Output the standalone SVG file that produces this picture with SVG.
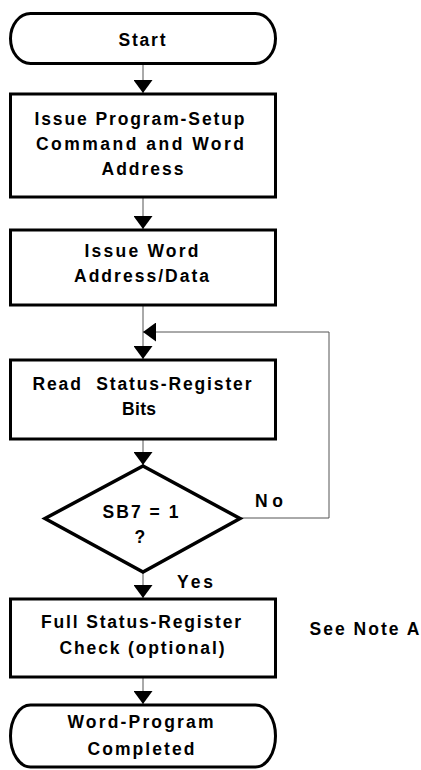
<svg xmlns="http://www.w3.org/2000/svg" width="421" height="770" viewBox="0 0 421 770">
<defs>
<marker id="ah" markerUnits="userSpaceOnUse" viewBox="0 0 13 19" refX="13" refY="9.5" markerWidth="13" markerHeight="19" orient="auto">
<path d="M0,0 L13,9.5 L0,19 z" fill="#000"/>
</marker>
</defs>
<style>
.shape{fill:#fff;stroke:#000;stroke-width:3}
.dia{fill:#fff;stroke:#000;stroke-width:3.5;stroke-linejoin:miter}
.t{font-family:"Liberation Sans",Arial,Helvetica,sans-serif;font-weight:bold;font-size:17.5px;fill:#000;white-space:pre}
.c{fill:none;stroke:#555;stroke-width:1}
</style>
<rect width="421" height="770" fill="#fff"/>
<g id="connectors">
<path class="c" d="M143,64 V93" marker-end="url(#ah)"/>
<path class="c" d="M143,197 V229" marker-end="url(#ah)"/>
<path class="c" d="M143,305 V359" marker-end="url(#ah)"/>
<path class="c" d="M143,439 V465" marker-end="url(#ah)"/>
<path class="c" d="M143,572 V598" marker-end="url(#ah)"/>
<path class="c" d="M143,677 V704" marker-end="url(#ah)"/>
<path class="c" d="M240,518 H329 V332 H143" marker-end="url(#ah)"/>
<text class="t" x="255" y="507" textLength="28" lengthAdjust="spacing">No</text>
<text class="t" x="177" y="588" textLength="36" lengthAdjust="spacing">Yes</text>
</g>
<g id="start">
<rect class="shape" x="10.5" y="13.5" width="265" height="50" rx="20" ry="25"/>
<text class="t" x="118.5" y="46" textLength="47" lengthAdjust="spacing">Start</text>
</g>
<g id="setup">
<rect class="shape" x="10.5" y="94" width="265" height="103"/>
<text class="t" x="34.5" y="125" textLength="210" lengthAdjust="spacing">Issue Program-Setup</text>
<text class="t" x="36" y="150" textLength="208" lengthAdjust="spacing">Command and Word</text>
<text class="t" x="101.5" y="175" textLength="82" lengthAdjust="spacing">Address</text>
</g>
<g id="data">
<rect class="shape" x="10.5" y="230" width="265" height="75"/>
<text class="t" x="84.5" y="257" textLength="114" lengthAdjust="spacing">Issue Word</text>
<text class="t" x="74" y="282" textLength="135" lengthAdjust="spacing">Address/Data</text>
</g>
<g id="read">
<rect class="shape" x="10.5" y="360" width="265" height="79"/>
<text class="t" x="32.5" y="390" textLength="219" lengthAdjust="spacing">Read  Status-Register</text>
<text class="t" x="122" y="415" textLength="34" lengthAdjust="spacing">Bits</text>
</g>
<g id="decision">
<polygon class="dia" points="143,466 240,518.5 143,572 45,518.5"/>
<text class="t" x="102.5" y="518" textLength="76" lengthAdjust="spacing">SB7 = 1</text>
<text class="t" x="134.5" y="543">?</text>
</g>
<g id="check">
<rect class="shape" x="10.5" y="599" width="265" height="78"/>
<text class="t" x="41" y="628" textLength="200" lengthAdjust="spacing">Full Status-Register</text>
<text class="t" x="59.5" y="654" textLength="165" lengthAdjust="spacing">Check (optional)</text>
</g>
<g id="note">
<text class="t" x="309.5" y="635" textLength="110" lengthAdjust="spacing">See Note A</text>
</g>
<g id="end">
<rect class="shape" x="10.5" y="705" width="265" height="62" rx="20" ry="31"/>
<text class="t" x="67.5" y="728" textLength="146" lengthAdjust="spacing">Word-Program</text>
<text class="t" x="87.5" y="755" textLength="107" lengthAdjust="spacing">Completed</text>
</g>
</svg>
